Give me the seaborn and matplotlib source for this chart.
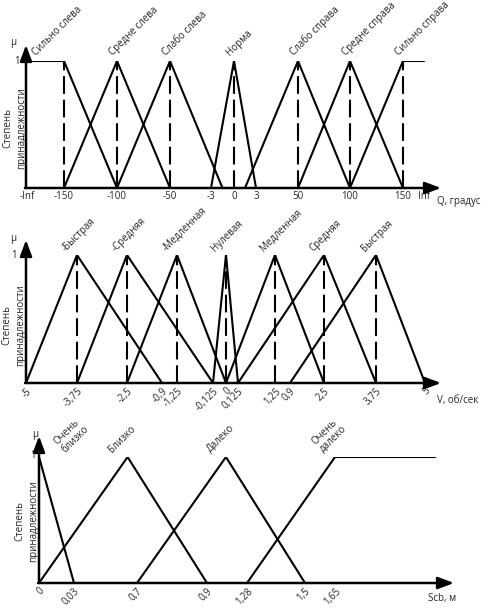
import numpy as np
import pandas as pd
import matplotlib
matplotlib.use("Agg")
import matplotlib.pyplot as plt
import seaborn as sns

# ---- Q, градус
q_ticks = [-np.inf, -150, -100, -50, -3, 0, 3, 50, 100, 150, np.inf]
q_labels = ["-Inf", "-150", "-100", "-50", "-3", "0", "3", "50", "100", "150", "Inf"]
q_terms = ["Сильно слева", "Средне слева", "Слабо слева", "Норма",
           "Слабо справа", "Средне справа", "Сильно справа"]
q_x = [[-np.inf, -150, -100], [-150, -100, -50], [-100, -50, -1.5], [-3, 0, 3],
       [1.5, 50, 100], [50, 100, 150], [100, 150, np.inf]]
q_mu = [[1, 1, 0], [0, 1, 0], [0, 1, 0], [0, 1, 0], [0, 1, 0], [0, 1, 0], [0, 1, 1]]
q_dashed = [-150, -100, -50, 0, 50, 100, 150]

# ---- V, об/сек
v_ticks = [-5, -3.75, -2.5, -0.9, -1.25, -0.125, 0, 0.125, 1.25, 0.9, 2.5, 3.75, 5]
v_labels = ["-5", "-3,75", "-2,5", "-0,9", "-1,25", "-0,125", "0", "0,125",
            "1,25", "0,9", "2,5", "3,75", "5"]
v_terms = ["-Быстрая", "-Средняя", "-Медленная", "Нулевая", "Медленная", "Средняя", "Быстрая"]
v_x = [[-5, -3.75, -0.9], [-3.75, -2.5, -0.125], [-2.5, -1.25, 0], [-0.125, 0, 0.125],
       [0, 1.25, 2.5], [0.125, 2.5, 3.75], [0.9, 3.75, 5]]
v_mu = [[0, 1, 0]] * 7
v_dashed = [-3.75, -2.5, -1.25, 0, 1.25, 2.5, 3.75]

# ---- Scb, м
s_ticks = [0, 0.03, 0.7, 0.9, 1.28, 1.5, 1.65]
s_labels = ["0", "0,03", "0,7", "0,9", "1,28", "1,5", "1,65"]
s_terms = ["Очень\nблизко", "Близко", "Далеко", "Очень\nдалеко"]
s_x = [[0, 0.03], [0, 0.6, 0.9], [0.7, 1.08, 1.5], [1.28, 1.65, 2.15]]
s_mu = [[1, 0], [0, 1, 0], [0, 1, 0], [0, 1, 1]]
s_dashed = []

W, H = 484, 613

# schematic axis: where each tick sits (pixels along the figure width)
Q_POS = [27, 64, 117, 170, 211, 234, 256, 298, 350, 403, 424]
V_POS = [26, 77, 127, 162, 177, 213, 226, 238, 275, 290, 324, 376, 425]
S_POS = [39, 74, 137, 207, 247, 305, 335]


def to_px(v, ticks, pos):
    for t, p in zip(ticks, pos):
        if t == v:
            return p
    pairs = sorted((t, p) for t, p in zip(ticks, pos) if np.isfinite(t))
    tv = np.array([a for a, b in pairs], float)
    pv = np.array([b for a, b in pairs], float)
    if v > tv[-1]:
        return pv[-1] + (v - tv[-1]) * (pv[-1] - pv[-2]) / (tv[-1] - tv[-2])
    return float(np.interp(v, tv, pv))


sns.set_style("white")
plt.rcParams["font.family"] = ["Open Sans", "DejaVu Sans"]
FS = 7

fig = plt.figure(figsize=(W / 100, H / 100), dpi=100)

panels = [
    dict(ticks=q_ticks, labels=q_labels, terms=q_terms, xs=q_x, mus=q_mu, dashed=q_dashed,
         pos=Q_POS, top=61, base=188, yax=26, xtip=441, ytip=45, xlabel="Q, градус",
         xl=(437, 202), mu_at=(13, 43), one_at=(17, 61), ylab=(15, 128),
         rot=0, ldx=-2, ldy=2.5, nudge={"Сильно слева": 13}),
    dict(ticks=v_ticks, labels=v_labels, terms=v_terms, xs=v_x, mus=v_mu, dashed=v_dashed,
         pos=V_POS, top=255, base=383, yax=26, xtip=441, ytip=240, xlabel="V, об/сек",
         xl=(437, 400), mu_at=(13, 238), one_at=(14, 255), ylab=(14, 325),
         rot=45, ldx=-9, ldy=1, nudge={}),
    dict(ticks=s_ticks, labels=s_labels, terms=s_terms, xs=s_x, mus=s_mu, dashed=s_dashed,
         pos=S_POS, top=457, base=583, yax=39, xtip=454, ytip=436, xlabel="Scb, м",
         xl=(428, 599), mu_at=(35, 435), one_at=(33, 456), ylab=(27, 521),
         rot=45, ldx=-13, ldy=2, nudge={"Очень\nблизко": 42, "Очень\nдалеко": 4}),
]

for p in panels:
    ax = fig.add_axes([0, 1 - p["base"] / H, 1, (p["base"] - p["top"]) / H])
    ax.set_xlim(0, W)
    ax.set_ylim(0, 1)
    for s in ax.spines.values():
        s.set_visible(False)
    ax.set_yticks([])

    rows = []
    for term, xs, mus in zip(p["terms"], p["xs"], p["mus"]):
        for xv, m in zip(xs, mus):
            rows.append({"term": term, "x": to_px(xv, p["ticks"], p["pos"]), "mu": m})
    df = pd.DataFrame(rows)
    sns.lineplot(data=df, x="x", y="mu", units="term", estimator=None, sort=False,
                 color="black", linewidth=1.5, ax=ax, legend=False)

    if p["dashed"]:
        ax.vlines([to_px(d, p["ticks"], p["pos"]) for d in p["dashed"]], 0, 1,
                  colors="black", linewidth=1.5, linestyles=(0, (8.5, 2.8)))

    # axes with arrows
    y_tip = (p["base"] - p["ytip"]) / (p["base"] - p["top"])
    arr = dict(arrowstyle="-|>,head_length=0.8,head_width=0.3", color="black",
               lw=1.8, shrinkA=0, shrinkB=0, mutation_scale=12)
    ax.annotate("", xy=(p["xtip"], 0), xytext=(p["yax"] - 1, 0), arrowprops=arr,
                annotation_clip=False)
    ax.annotate("", xy=(p["yax"], y_tip), xytext=(p["yax"], 0), arrowprops=arr,
                annotation_clip=False)

    # term names above the peaks
    for term, xs, mus in zip(p["terms"], p["xs"], p["mus"]):
        core = [to_px(xv, p["ticks"], p["pos"]) for xv, m in zip(xs, mus) if m == 1]
        dx = p["ldx"] + p["nudge"].get(term, 0)
        ax.annotate(term, xy=(core[0], 1), xytext=(dx * 0.72, p["ldy"] * 0.72),
                    textcoords="offset points", rotation=45, rotation_mode="anchor",
                    ha="left", va="bottom", fontsize=FS, annotation_clip=False,
                    linespacing=1.1)

    ax.set_xticks(p["pos"], p["labels"])
    ax.tick_params(axis="x", length=0, labelsize=FS, pad=2)
    if p["rot"]:
        plt.setp(ax.get_xticklabels(), rotation=45, ha="right", va="top",
                 rotation_mode="anchor")
    ax.set_xlabel("")
    ax.set_ylabel("")

    fig.text(p["xl"][0] / W, 1 - p["xl"][1] / H, p["xlabel"], fontsize=FS,
             ha="left", va="center")
    fig.text(p["mu_at"][0] / W, 1 - p["mu_at"][1] / H, "μ", fontsize=FS,
             ha="center", va="center")
    fig.text(p["one_at"][0] / W, 1 - p["one_at"][1] / H, "1", fontsize=FS,
             ha="center", va="center")
    fig.text(p["ylab"][0] / W, 1 - p["ylab"][1] / H, "Степень\nпринадлежности",
             fontsize=FS, rotation=90, ha="center", va="center",
             multialignment="center", linespacing=1.3)

fig.savefig("out.png", dpi=100, facecolor="white")
